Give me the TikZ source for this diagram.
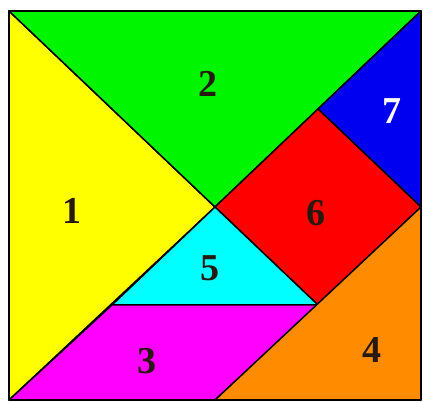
\documentclass[tikz,border=0pt]{standalone}
\usepackage{fontspec}
\setmainfont{Liberation Serif}
\definecolor{tgyellow}{RGB}{255,255,0}
\definecolor{tggreen}{RGB}{0,245,0}
\definecolor{tgblue}{RGB}{0,0,240}
\definecolor{tgred}{RGB}{255,0,0}
\definecolor{tgcyan}{RGB}{0,255,255}
\definecolor{tgmagenta}{RGB}{255,0,255}
\definecolor{tgorange}{RGB}{255,140,0}
\definecolor{tgtext}{RGB}{40,25,15}
\tikzset{
  piece/.style={draw=black, line width=1.5pt, line join=round},
  num/.style={font=\fontsize{38}{38}\selectfont\bfseries, text=tgtext, inner sep=0pt}
}
\begin{document}
\begin{tikzpicture}[x=1pt,y=-1pt]
\useasboundingbox (0,0) rectangle (423,403);
\fill[white] (0,0) rectangle (423,403);
\coordinate (TL) at (9,11);
\coordinate (TR) at (421,11);
\coordinate (BL) at (9,400);
\coordinate (BR) at (421,400);
\coordinate (C) at (215,207);
\coordinate (Q) at (318,109);
\coordinate (R) at (421,207);
\coordinate (S) at (318,305);
\coordinate (P) at (112,305);
\coordinate (B) at (215,400);
\filldraw[piece, fill=tgyellow] (TL) -- (C) -- (BL) -- cycle;
\filldraw[piece, fill=tggreen] (TL) -- (TR) -- (C) -- cycle;
\filldraw[piece, fill=tgblue] (TR) -- (R) -- (Q) -- cycle;
\filldraw[piece, fill=tgred] (C) -- (Q) -- (R) -- (S) -- cycle;
\filldraw[piece, fill=tgcyan] (C) -- (S) -- (P) -- cycle;
\filldraw[piece, fill=tgmagenta] (P) -- (S) -- (B) -- (BL) -- cycle;
\filldraw[piece, fill=tgorange] (R) -- (BR) -- (B) -- cycle;
\draw[piece, fill=none] (TL) rectangle (BR);
\node[num] (n1) at (72,211) {1};
\node[num] (n2) at (208,84) {2};
\node[num] (n3) at (147,361) {3};
\node[num] (n4) at (372,350) {4};
\node[num] (n5) at (210,268) {5};
\node[num] (n6) at (316,213) {6};
\node[num, text=white] (n7) at (392,111) {7};
\end{tikzpicture}
\end{document}
